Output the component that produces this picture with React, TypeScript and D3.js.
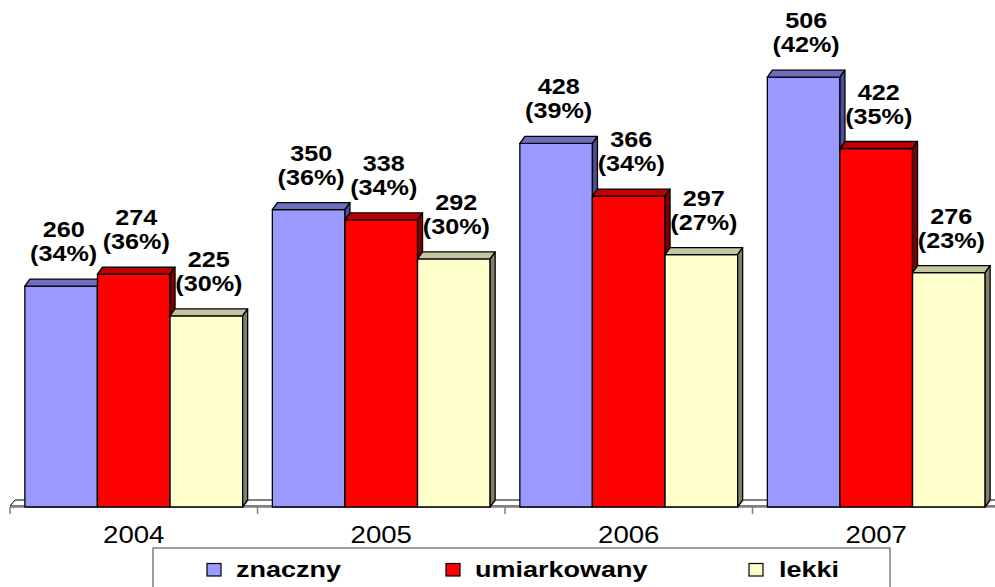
import React from "react";
import * as d3 from "d3";

const years = ["2004", "2005", "2006", "2007"];
const seriesNames = ["znaczny", "umiarkowany", "lekki"];
const znaczny = [260, 350, 428, 506];
const umiarkowany = [274, 338, 366, 422];
const lekki = [225, 292, 297, 276];
const znacznyPct = [34, 36, 39, 42];
const umiarkowanyPct = [36, 34, 34, 35];
const lekkiPct = [30, 30, 27, 23];

const W = 995;
const H = 587;
const FONT = "'Liberation Sans', Arial, sans-serif";
const SX = 1.2;

const colors = {
  znaczny: { front: "#9999FF", top: "#6E6EC0", side: "#4D4D99" },
  umiarkowany: { front: "#FF0000", top: "#C00000", side: "#800000" },
  lekki: { front: "#FFFFCC", top: "#C4C4A0", side: "#80806A" },
};

export default function App() {
  const values = [znaczny, umiarkowany, lekki];
  const pcts = [znacznyPct, umiarkowanyPct, lekkiPct];

  const x0 = d3.scaleBand<string>().domain(years).range([10, 1000]).paddingInner(0.12).paddingOuter(0.06);
  const x1 = d3.scaleBand<string>().domain(seriesNames).range([0, x0.bandwidth()]);
  const y = d3.scaleLinear().domain([0, 600]).range([507, -2.7]);

  const dx = 5;
  const dy = 7;
  const base = y(0);
  const step = x0.step();
  const halfGap = (step - x0.bandwidth()) / 2;
  const tickXs = years.map((yr) => (x0(yr) as number) - halfGap);
  tickXs.push((x0(years[years.length - 1]) as number) + x0.bandwidth() + halfGap);
  const left = tickXs[0];
  const right = tickXs[tickXs.length - 1];

  const bars: React.ReactNode[] = [];
  const labels: React.ReactNode[] = [];
  years.forEach((yr, i) => {
    seriesNames.forEach((s, j) => {
      const v = values[j][i];
      const bx = (x0(yr) as number) + (x1(s) as number);
      const bw = x1.bandwidth();
      const ty = y(v);
      const c = (colors as any)[s];
      bars.push(
        <g key={`b-${yr}-${s}`} stroke="#000" strokeWidth={1.3} strokeLinejoin="round">
          <rect x={bx} y={ty} width={bw} height={base - ty} fill={c.front} />
          <polygon
            points={`${bx},${ty} ${bx + dx},${ty - dy} ${bx + bw + dx},${ty - dy} ${bx + bw},${ty}`}
            fill={c.top}
          />
          <polygon
            points={`${bx + bw},${ty} ${bx + bw + dx},${ty - dy} ${bx + bw + dx},${base - dy} ${bx + bw},${base}`}
            fill={c.side}
          />
        </g>
      );
      const cx = bx + bw / 2 + dx / 2;
      labels.push(
        <g key={`l-${yr}-${s}`} fontFamily={FONT} fontWeight="bold" fontSize={22.5} fill="#000" textAnchor="middle">
          <text transform={`translate(${cx},${ty - 49}) scale(1.12,1)`}>{v}</text>
          <text transform={`translate(${cx},${ty - 25}) scale(1.12,1)`}>{`(${pcts[j][i]}%)`}</text>
        </g>
      );
    });
  });

  const legendItems = [
    { name: seriesNames[0], sq: 207, tx: 236 },
    { name: seriesNames[1], sq: 446, tx: 475 },
    { name: seriesNames[2], sq: 749, tx: 779 },
  ];

  return (
    <svg
      width={W}
      height={H}
      viewBox={`0 0 ${W} ${H}`}
      style={{ position: "absolute", left: 0, top: 0, background: "#fff" }}
    >
      <rect x={0} y={0} width={W} height={H} fill="#fff" />
      {/* floor */}
      <polygon
        points={`${left},${base - 1} ${left + dx},${base - dy} ${right + dx},${base - dy} ${right},${base - 1}`}
        fill="#fff"
        stroke="#000"
        strokeWidth={1}
      />
      <line x1={left} x2={right} y1={base} y2={base} stroke="#808080" strokeWidth={1.5} />
      {tickXs.map((tx, k) => (
        <line key={`t-${k}`} x1={tx} x2={tx} y1={base} y2={base + 7} stroke="#808080" strokeWidth={1.5} />
      ))}
      {bars}
      {labels}
      {years.map((yr) => (
        <text
          key={`x-${yr}`}
          transform={`translate(${(x0(yr) as number) + x0.bandwidth() / 2},543) scale(${SX},1)`}
          textAnchor="middle"
          fontFamily={FONT}
          fontSize={23}
          fill="#000"
        >
          {yr}
        </text>
      ))}
      {/* legend */}
      <rect x={153} y={548} width={737} height={60} fill="#fff" stroke="#808080" strokeWidth={1.5} />
      {legendItems.map((it) => (
        <g key={`lg-${it.name}`}>
          <rect
            x={it.sq}
            y={563.5}
            width={14}
            height={12.5}
            fill={(colors as any)[it.name].front}
            stroke="#000"
            strokeWidth={1.2}
          />
          <text
            transform={`translate(${it.tx},577) scale(${SX},1)`}
            fontFamily={FONT}
            fontWeight="bold"
            fontSize={22.5}
            fill="#000"
          >
            {it.name}
          </text>
        </g>
      ))}
    </svg>
  );
}
